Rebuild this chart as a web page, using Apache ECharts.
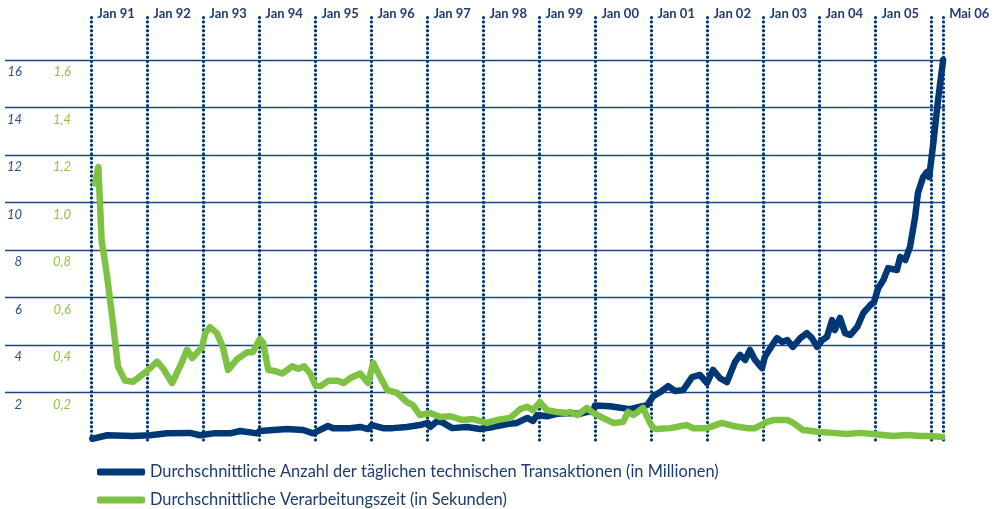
<!DOCTYPE html>
<html>
<head>
<meta charset="utf-8">
<script src="https://cdn.jsdelivr.net/npm/echarts@6/dist/echarts.min.js"></script>
<style>
  html, body { margin: 0; padding: 0; background: #fff; }
  #container { width: 1002px; height: 509px; }
</style>
</head>
<body>
<div id="container"></div>
<script>
// x = Monate seit Jan 1991
var markerMonths = [0, 12, 24, 36, 48, 60, 72, 84, 96, 108, 120, 132, 144, 156, 168, 180, 182.5];
var markerLabels = ['Jan 91', 'Jan 92', 'Jan 93', 'Jan 94', 'Jan 95', 'Jan 96', 'Jan 97', 'Jan 98',
    'Jan 99', 'Jan 00', 'Jan 01', 'Jan 02', 'Jan 03', 'Jan 04', 'Jan 05', '', 'Mai 06'];

// Transaktionen (in Millionen)
var transMonths = [0.2, 3.4, 8.9, 12.6, 16.2, 21.1, 23.3, 26.1, 29.7, 31.9, 35.5, 36.1, 41.9, 45.4, 47.5,
    50.7, 51.8, 55.4, 57.6, 59.3, 60.1, 62.5, 64.6, 67.6, 70.4, 72.1, 72.6, 74.1, 75.4, 77.3, 80.5,
    83.3, 86.1, 89.1, 91.2, 93.4, 94.6, 95.5, 97.6, 99.8, 102.6, 104.7, 106.2, 107.5, 107.9, 111.1,
    115.4, 117.6, 119.1, 120.4, 121.9, 123.6, 125.1, 126.8, 128.7, 130.4, 131.9, 133.2, 134.7, 136.2,
    137.9, 139.0, 140.1, 141.1, 142.2, 143.7, 144.3, 145.9, 146.9, 148.0, 149.1, 150.3, 151.9, 153.3,
    154.4, 155.5, 156.6, 157.6, 158.7, 159.3, 160.4, 161.5, 162.6, 164.1, 165.4, 166.9, 167.7, 168.6,
    169.7, 170.7, 172.6, 173.3, 174.4, 175.4, 176.5, 177.1, 178.2, 179.0, 179.5, 180.4, 181.4, 182.5];
var transValues = [0.05, 0.2, 0.17, 0.2, 0.28, 0.3, 0.2, 0.28, 0.28, 0.38, 0.28, 0.38, 0.46, 0.42, 0.28,
    0.59, 0.5, 0.5, 0.55, 0.46, 0.63, 0.5, 0.5, 0.55, 0.63, 0.72, 0.55, 0.8, 0.72, 0.5, 0.55,
    0.46, 0.55, 0.67, 0.72, 0.93, 0.8, 1.05, 1.0, 1.1, 1.14, 1.1, 1.18, 1.2, 1.45, 1.42,
    1.3, 1.4, 1.47, 1.85, 2.02, 2.27, 2.06, 2.1, 2.65, 2.74, 2.4, 2.95, 2.6, 2.44,
    3.28, 3.58, 3.37, 3.79, 3.37, 3.03, 3.5, 4.0, 4.29, 4.13, 4.21, 3.92, 4.29, 4.5,
    4.29, 3.92, 4.21, 4.34, 5.05, 4.63, 5.14, 4.5, 4.42, 4.76, 5.35, 5.68, 5.81, 6.4,
    6.74, 7.24, 7.16, 7.71, 7.58, 8.13, 9.39, 10.4, 11.07, 11.28, 11.07, 12.5, 14.3, 16.0];

// Verarbeitungszeit (in Sekunden)
var zeitMonths = [0.8, 1.5, 2.2, 3.3, 4.65, 5.7, 7.2, 8.9, 11.9, 14.1, 15.4, 17.3, 19.0, 20.5, 21.6,
    23.7, 24.4, 25.4, 26.9, 28.2, 29.3, 31.2, 33.4, 34.6, 36.1, 36.8, 37.9, 39.4, 40.9, 43.0, 44.3,
    45.6, 46.9, 48.0, 49.1, 50.8, 52.7, 54.0, 55.4, 57.6, 59.3, 60.4, 61.9, 63.4, 65.5, 67.6, 68.9,
    70.4, 72.6, 74.7, 76.9, 79.6, 81.8, 84.8, 86.9, 89.7, 91.9, 93.4, 94.6, 96.1, 97.6, 99.8, 101.9,
    102.6, 104.1, 106.2, 107.5, 109.6, 111.8, 113.9, 115.0, 116.1, 118.2, 119.7, 120.4, 121.2, 124.0,
    127.6, 128.9, 131.9, 135.1, 137.5, 140.5, 142.2, 144.8, 146.1, 149.1, 150.4, 152.5, 156.1, 158.9,
    161.9, 164.7, 167.5, 171.8, 174.8, 177.6, 179.7, 182.3];
var zeitValues = [1.08, 1.15, 0.84, 0.70, 0.49, 0.31, 0.25, 0.245, 0.29, 0.33, 0.30, 0.24, 0.31, 0.38, 0.345,
    0.39, 0.45, 0.475, 0.45, 0.39, 0.295, 0.34, 0.37, 0.37, 0.425, 0.41, 0.295, 0.29, 0.28, 0.31, 0.30,
    0.31, 0.28, 0.23, 0.227, 0.25, 0.25, 0.24, 0.26, 0.28, 0.24, 0.325, 0.265, 0.21, 0.198, 0.16, 0.147,
    0.105, 0.114, 0.097, 0.10, 0.084, 0.088, 0.072, 0.084, 0.093, 0.13, 0.14, 0.126, 0.16, 0.126, 0.118, 0.114,
    0.118, 0.105, 0.135, 0.114, 0.093, 0.072, 0.076, 0.118, 0.105, 0.135, 0.072, 0.05, 0.046, 0.05,
    0.063, 0.05, 0.05, 0.072, 0.059, 0.05, 0.05, 0.076, 0.084, 0.084, 0.072, 0.042, 0.034, 0.03,
    0.025, 0.03, 0.025, 0.017, 0.021, 0.017, 0.017, 0.013];

var nameTrans = 'Durchschnittliche Anzahl der täglichen technischen Transaktionen (in Millionen)';
var nameZeit = 'Durchschnittliche Verarbeitungszeit (in Sekunden)';

var navy = '#003876';
var green = '#7dc242';
var yTop = 17.94; // Platz fuer die Monatsbeschriftung oberhalb von 16

var dom = document.getElementById('container');
var myChart = echarts.init(dom);

var markers = markerMonths.map(function (m, i) {
    return [
        { xAxis: m, yAxis: 0 },
        {
            xAxis: m, yAxis: yTop,
            label: { show: markerLabels[i] !== '', formatter: markerLabels[i] }
        }
    ];
});
markers.push([
    { xAxis: 0, yAxis: 0, lineStyle: { type: 'solid', width: 3, color: navy } },
    { xAxis: 183, yAxis: 0, label: { show: false } }
]);

function legendItem(name, top) {
    return {
        orient: 'vertical',
        left: 92,
        top: top,
        itemWidth: 48,
        itemHeight: 7,
        icon: 'roundRect',
        textStyle: { fontFamily: 'Lato', fontSize: 16.4, color: '#1d3c6e' },
        data: [name]
    };
}

var option = {
    animation: false,
    grid: { left: 5, right: 57, top: 14, bottom: 69 },
    xAxis: {
        type: 'value',
        min: -18.5,
        max: 182.9,
        axisLine: { show: false },
        axisTick: { show: false },
        axisLabel: { show: false },
        splitLine: { show: false }
    },
    yAxis: [
        {
            type: 'value',
            min: 0,
            max: yTop,
            interval: 2,
            axisLine: { show: false },
            axisTick: { show: false },
            axisLabel: {
                inside: true,
                margin: 17,
                align: 'right',
                verticalAlign: 'middle',
                lineHeight: 24,
                fontFamily: 'Lato',
                fontStyle: 'italic',
                fontSize: 13,
                color: '#2c4f86',
                formatter: function (v) {
                    return (v === 0 || v > 16.01) ? '' : ' \n' + v;
                }
            },
            splitLine: {
                show: true,
                showMinLine: false,
                showMaxLine: false,
                lineStyle: { color: '#1d4580', width: 1.3 }
            }
        },
        {
            type: 'value',
            min: 0,
            max: yTop / 10,
            interval: 0.2,
            position: 'left',
            axisLine: { show: false },
            axisTick: { show: false },
            splitLine: { show: false },
            axisLabel: {
                inside: true,
                margin: 66,
                align: 'right',
                verticalAlign: 'middle',
                lineHeight: 24,
                fontFamily: 'Lato',
                fontStyle: 'italic',
                fontSize: 13,
                color: '#8cc63f',
                formatter: function (v) {
                    return (v === 0 || v > 1.601) ? '' : ' \n' + v.toFixed(1).replace('.', ',');
                }
            }
        }
    ],
    legend: [legendItem(nameTrans, 459), legendItem(nameZeit, 487)],
    series: [
        {
            name: nameTrans,
            type: 'line',
            yAxisIndex: 0,
            z: 3,
            symbol: 'none',
            color: navy,
            lineStyle: { width: 6.5, color: navy, cap: 'round', join: 'round' },
            data: transMonths.map(function (m, i) { return [m, transValues[i]]; }),
            markLine: {
                z: 1,
                silent: true,
                symbol: ['none', 'none'],
                animation: false,
                lineStyle: { color: navy, width: 3.2, type: [0.1, 4.3], cap: 'round' },
                label: {
                    position: 'end',
                    distance: 0,
                    align: 'left',
                    verticalAlign: 'middle',
                    padding: [9, 0, 0, 6],
                    fontFamily: 'Lato',
                    fontWeight: 'bold',
                    fontSize: 13,
                    color: '#1f3d73'
                },
                data: markers
            }
        },
        {
            name: nameZeit,
            type: 'line',
            yAxisIndex: 1,
            z: 4,
            symbol: 'none',
            color: green,
            lineStyle: { width: 6.5, color: green, cap: 'round', join: 'round' },
            data: zeitMonths.map(function (m, i) { return [m, zeitValues[i]]; })
        }
    ]
};

if (option && typeof option === 'object') {
    myChart.setOption(option, true);
}
</script>
</body>
</html>
